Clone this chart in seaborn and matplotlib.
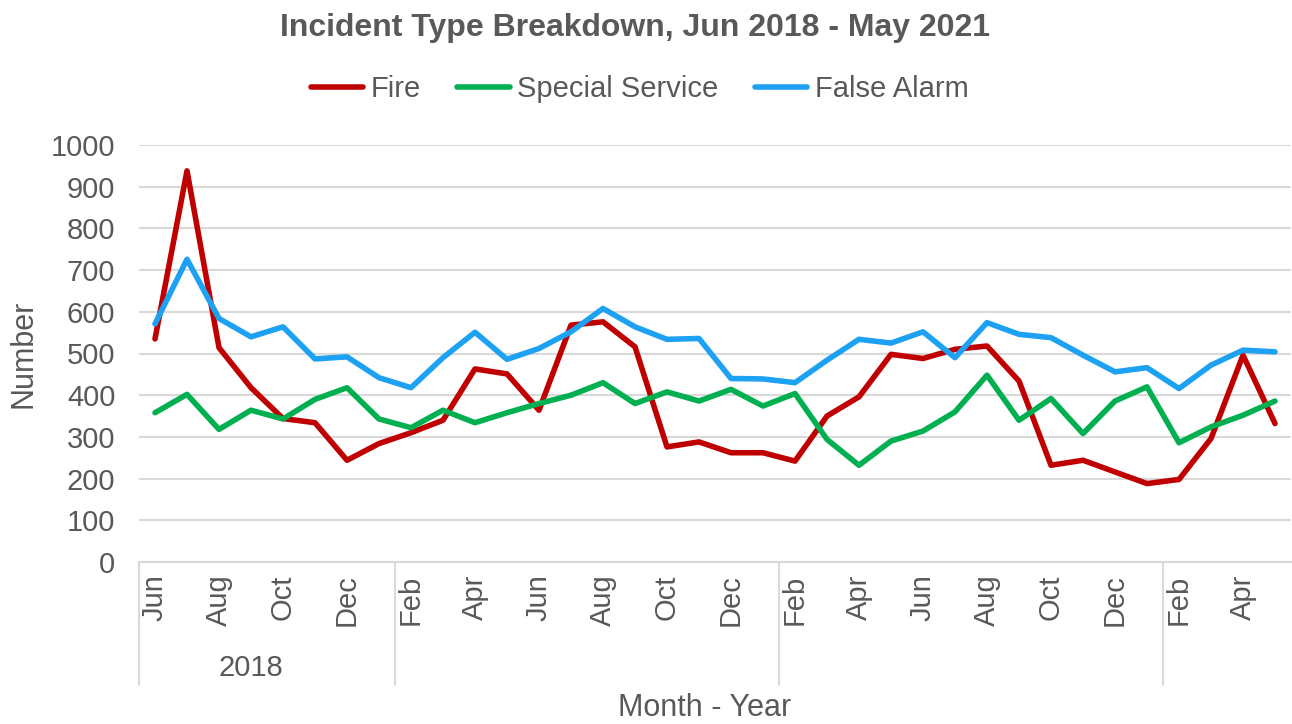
import pandas as pd
import numpy as np
import matplotlib
matplotlib.use('Agg')
import matplotlib.pyplot as plt
import seaborn as sns

sns.set_style('white')
plt.rcParams['font.family'] = ['Liberation Sans', 'DejaVu Sans']

# Monthly incident counts, Jun 2018 - May 2021
months = ['Jun', 'Jul', 'Aug', 'Sep', 'Oct', 'Nov', 'Dec',
          'Jan', 'Feb', 'Mar', 'Apr', 'May', 'Jun', 'Jul', 'Aug', 'Sep', 'Oct', 'Nov', 'Dec',
          'Jan', 'Feb', 'Mar', 'Apr', 'May', 'Jun', 'Jul', 'Aug', 'Sep', 'Oct', 'Nov', 'Dec',
          'Jan', 'Feb', 'Mar', 'Apr', 'May']
years = [2018] * 7 + [2019] * 12 + [2020] * 12 + [2021] * 5

fire = [535, 938, 514, 418, 344, 334, 244, 284, 310, 340, 463, 451, 364, 568, 576, 516,
        276, 288, 262, 262, 242, 350, 396, 498, 488, 510, 518, 434, 232, 244, 216, 188,
        198, 296, 496, 332]
special_service = [358, 402, 318, 364, 343, 390, 418, 343, 322, 364, 334, 358, 380, 400,
                   430, 380, 408, 386, 414, 374, 404, 294, 232, 290, 314, 360, 448, 340,
                   392, 308, 386, 420, 286, 324, 352, 386]
false_alarm = [571, 726, 584, 540, 564, 487, 492, 442, 418, 490, 551, 486, 512, 552, 608,
               564, 534, 536, 440, 439, 430, 484, 534, 525, 552, 490, 574, 546, 538, 496,
               456, 466, 416, 472, 508, 504]

# group separators in the category axis (as drawn in the original)
group_edges = [8, 20, 32]
year_labels = ['2018']

series = ['Fire', 'Special Service', 'False Alarm']
colors = {'Fire': '#C00000', 'Special Service': '#00B050', 'False Alarm': '#1DA1F2'}

n = len(months)
df = pd.DataFrame({
    'idx': list(range(n)) * 3,
    'value': fire + special_service + false_alarm,
    'type': [s for s in series for _ in range(n)],
})

text_col = '#595959'
grid_col = '#D9D9D9'

fig = plt.figure(figsize=(12.92, 7.24), dpi=100)
ax = fig.add_axes([139 / 1292, 1 - 562 / 724, 1152 / 1292, 417 / 724])

sns.lineplot(data=df, x='idx', y='value', hue='type', hue_order=series,
             palette=colors, linewidth=4, ax=ax, legend=False)
for line in ax.lines:
    line.set_solid_joinstyle('round')
    line.set_solid_capstyle('round')

ax.set_xlim(-0.5, n - 0.5)
ax.set_ylim(0, 1000)
ax.set_yticks(range(0, 1001, 100))
ax.yaxis.grid(True, color=grid_col, linewidth=1.5)
ax.set_axisbelow(True)
for s in ['left', 'top', 'right']:
    ax.spines[s].set_visible(False)
ax.spines['bottom'].set_color(grid_col)
ax.spines['bottom'].set_linewidth(1.5)

ax.tick_params(axis='y', length=0, pad=17, labelsize=21, labelcolor=text_col)
ax.set_xticks(range(0, n, 2))
ax.set_xticklabels(months[::2], rotation=90)
ax.set_xticks(np.arange(-0.5, n, 1), minor=True)
ax.tick_params(axis='x', which='major', length=0, pad=9, labelsize=21, labelcolor=text_col)
ax.tick_params(axis='x', which='minor', length=6, width=1.2, color=grid_col)

# year group separators and label
trans = ax.get_xaxis_transform()
for e in [0] + group_edges:
    ax.plot([e - 0.5, e - 0.5], [0, -0.295], transform=trans, color=grid_col,
            linewidth=1.5, clip_on=False)
pos_2018 = np.mean([i for i, y in enumerate(years) if y == 2018])
ax.text(pos_2018, -0.254, year_labels[0], transform=trans, ha='center', va='center',
        fontsize=21, color=text_col)

ax.set_xlabel('Month - Year', fontsize=22, color=text_col)
ax.xaxis.set_label_coords(0.491, -0.315)
ax.set_ylabel('Number', fontsize=22, color=text_col)
ax.yaxis.set_label_coords(-0.087, 0.5)

fig.text(0.4915, 1 - 28 / 724, 'Incident Type Breakdown, Jun 2018 - May 2021',
         ha='center', va='center', fontsize=23, fontweight='bold', color=text_col)

handles = [plt.Line2D([], [], color=colors[s], linewidth=4, solid_capstyle='round') for s in series]
fig.legend(handles, series, loc='center', bbox_to_anchor=(0.495, 1 - 89 / 724), ncol=3,
           frameon=False, fontsize=21, labelcolor=text_col, handlelength=1.8,
           handletextpad=0.25, columnspacing=1.25)

fig.savefig('out.png', dpi=100, facecolor='white')
